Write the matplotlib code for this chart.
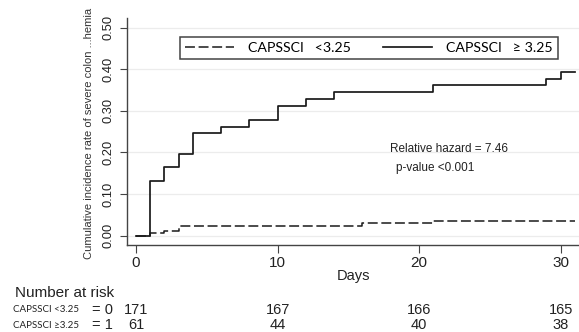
import matplotlib
matplotlib.use("Agg")
import matplotlib.pyplot as plt
from matplotlib.lines import Line2D
from matplotlib.transforms import blended_transform_factory

plt.rcParams['font.family'] = ['Liberation Sans', 'DejaVu Sans']

# Kaplan-Meier type cumulative incidence
days_low = [0, 1, 2, 3, 16, 21, 31]
cuminc_low = [0, 0.0058, 0.0117, 0.0234, 0.0292, 0.0351, 0.0351]

days_high = [0, 1, 2, 3, 4, 6, 8, 10, 12, 14, 21, 29, 30, 31]
cuminc_high = [0, 0.131, 0.164, 0.197, 0.246, 0.262, 0.279, 0.311, 0.328,
               0.344, 0.361, 0.377, 0.393, 0.393]

# number at risk table
risk_days = [0, 10, 20, 30]
risk_low = [171, 167, 166, 165]
risk_high = [61, 44, 40, 38]

x_ticks = [0, 10, 20, 30]
y_ticks = [0.0, 0.1, 0.2, 0.3, 0.4, 0.5]

fig = plt.figure(figsize=(5.79, 3.32), dpi=100)
ax = fig.add_axes([127 / 579, 1 - 245 / 332, 452 / 579, 227 / 332])

ax.step(days_low, cuminc_low, where='post', color='#1a1a1a', lw=1.1,
        dashes=(6.5, 2.4))
ax.step(days_high, cuminc_high, where='post', color='#1a1a1a', lw=1.25)

ax.set_xlim(-0.64, 31.3)
ax.set_ylim(-0.0225, 0.523)
ax.set_xticks(x_ticks)
ax.set_yticks(y_ticks)
ax.set_yticklabels([f'{v:.2f}' for v in y_ticks], rotation=90, va='center')
ax.tick_params(axis='y', length=5, pad=4, labelsize=9.3, color='#444', labelcolor='#222')
ax.tick_params(axis='x', length=6, pad=2, labelsize=11, color='#444', labelcolor='#222')

for v in y_ticks:
    ax.axhline(v, color='#ececec', lw=0.9, zorder=0)

ax.spines['top'].set_visible(False)
ax.spines['right'].set_visible(False)
for s in ['left', 'bottom']:
    ax.spines[s].set_color('#444')
    ax.spines[s].set_linewidth(1.0)

ax.set_xlabel('Days', fontsize=10.5, color='#222')
ax.xaxis.set_label_coords(0.5, -0.105)
ax.set_ylabel('Cumulative incidence rate of severe colon ...hemia', fontsize=8.0, color='#333')
ax.yaxis.set_label_coords(-0.072, 0.49)

# legend
handles = [Line2D([], [], color='#1a1a1a', lw=1.1, dashes=(6.5, 2.4)),
           Line2D([], [], color='#1a1a1a', lw=1.25)]
labels = ['CAPSSCI   <3.25', 'CAPSSCI   \u2265 3.25']
leg = fig.legend(handles, labels, loc='center', bbox_to_anchor=(369 / 579, 1 - 48 / 332),
                 ncol=2, fancybox=False, framealpha=1, edgecolor='#444',
                 handlelength=3.45, handletextpad=1.0, columnspacing=2.3,
                 borderpad=0.35, prop={'family': ['Lato', 'DejaVu Sans'], 'size': 10.2})
leg.get_frame().set_linewidth(1.1)

ax.text(17.95, 0.208, 'Relative hazard = 7.46', fontsize=8.5, va='center', color='#222')
ax.text(18.37, 0.163, 'p-value <0.001', fontsize=8.5, va='center', color='#222')

# number at risk table below the axis
tr = blended_transform_factory(ax.transData, fig.transFigure)
fig.text(0.026, 1 - 293 / 332, 'Number at risk', fontsize=11, va='center', color='#222')
fig.text(0.022, 1 - 310 / 332, 'CAPSSCI <3.25', fontsize=7, va='center', color='#222',
         family=['Lato', 'DejaVu Sans'])
fig.text(0.022, 1 - 325 / 332, 'CAPSSCI \u22653.25', fontsize=7, va='center', color='#222',
         family=['Lato', 'DejaVu Sans'])
fig.text(92 / 579, 1 - 310 / 332, '= 0', fontsize=10.5, va='center', color='#222')
fig.text(92 / 579, 1 - 325 / 332, '= 1', fontsize=10.5, va='center', color='#222')
for d, a, b in zip(risk_days, risk_low, risk_high):
    ax.text(d, 1 - 310 / 332, str(a), transform=tr, fontsize=10.5, ha='center', va='center', color='#222')
    ax.text(d, 1 - 325 / 332, str(b), transform=tr, fontsize=10.5, ha='center', va='center', color='#222')

fig.savefig('out.png', dpi=100)
